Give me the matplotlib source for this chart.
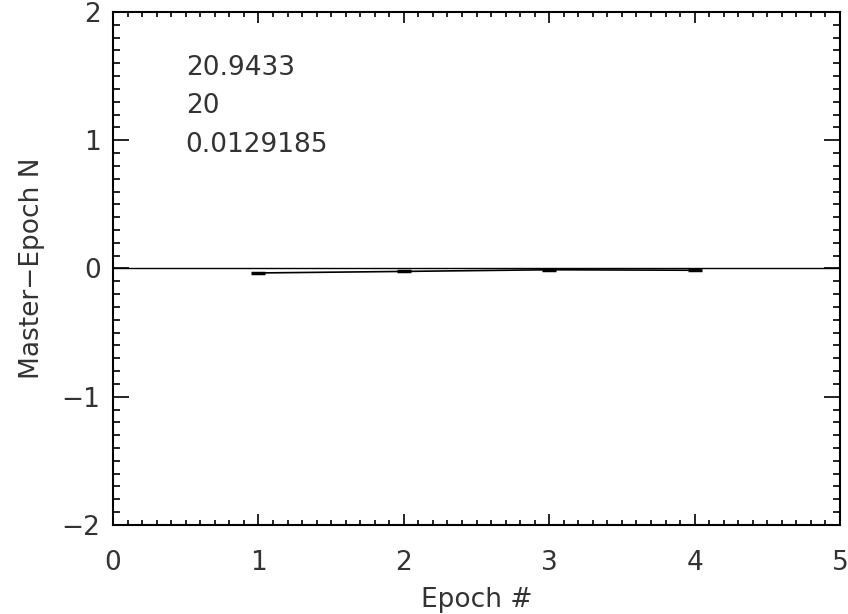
import numpy as np
import matplotlib.pyplot as plt
from matplotlib.ticker import MultipleLocator

# epoch number and master - epoch N offset
epoch = [1, 2, 3, 4]
diff = [-0.035, -0.023, -0.010, -0.014]
notes = ["20.9433", "20", "0.0129185"]

fig = plt.figure(figsize=(8.48, 6.14), dpi=100)
ax = fig.add_axes([0.1333, 0.145, 0.8573, 0.8355])

ax.axhline(0, color='k', lw=1.0)
ax.plot(epoch, diff, 'k-', lw=1.2, marker='_', ms=10, mew=2.5)

for i, s in enumerate(notes):
    ax.text(0.5, 1.56 - 0.297 * i, s, fontsize=19, color='#333333', va='center')

ax.set_xlim(0, 5)
ax.set_ylim(-2, 2)
ax.xaxis.set_major_locator(MultipleLocator(1))
ax.xaxis.set_minor_locator(MultipleLocator(0.1))
ax.yaxis.set_major_locator(MultipleLocator(1))
ax.yaxis.set_minor_locator(MultipleLocator(0.1))
ax.tick_params(which='both', direction='in', top=True, right=True, width=1.2, labelsize=19, labelcolor='#333333')
ax.tick_params(axis='x', which='major', length=8, pad=18)
ax.tick_params(axis='x', which='minor', length=3.6)
ax.tick_params(axis='y', which='major', length=11.5, pad=9)
ax.tick_params(axis='y', which='minor', length=5)
for sp in ax.spines.values():
    sp.set_linewidth(1.5)

ax.set_xlabel('Epoch #', fontsize=19, color='#333333', labelpad=8)
ax.set_ylabel('Master\u2212Epoch N', fontsize=19, color='#333333', labelpad=12)

plt.savefig('out.png', dpi=100)
